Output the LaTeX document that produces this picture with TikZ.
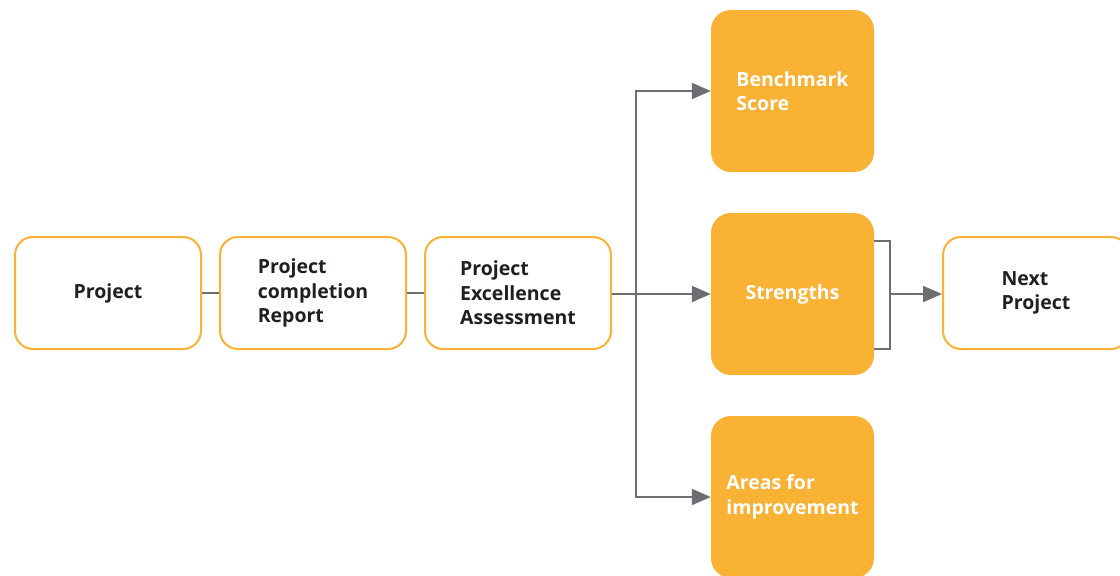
\documentclass[tikz,border=0pt]{standalone}
\usepackage{fontspec}
\setmainfont{Open Sans}
\usetikzlibrary{arrows.meta}
\definecolor{orng}{HTML}{F9B233}
\definecolor{gry}{HTML}{6D6E71}
\definecolor{txt}{HTML}{231F20}
\begin{document}
\begin{tikzpicture}[x=1pt,y=-1pt,
  wbox/.style={draw=orng,line width=2pt,fill=white,rounded corners=18pt,
    minimum width=186pt,minimum height=112pt,align=left,
    font=\fontsize{19.5}{24.5}\selectfont\bfseries,text=txt,inner sep=0pt},
  obox/.style={fill=orng,rounded corners=20pt,
    minimum width=163pt,minimum height=162pt,align=left,
    font=\fontsize{19.5}{24.5}\selectfont\bfseries,text=white,inner sep=0pt},
  conn/.style={draw=gry,line width=2pt},
  arr/.style={conn,-{Triangle[length=19pt,width=16pt]}}]
\useasboundingbox (0,0) rectangle (1120,576);
\node[wbox] (p) at (108,293) {Project};
\node[wbox] (pcr) at (313,293) {Project\\completion\\Report};
\node[wbox] (pea) at (518,293) {Project\\Excellence\\Assessment};
\node[obox] (bs) at (792.5,91) {Benchmark\\Score};
\node[obox] (st) at (792.5,294) {Strengths};
\node[obox] (af) at (792.5,497) {Areas for\\improvement};
\node[wbox] (np) at (1036,293) {Next\\Project};
\draw[conn] (p.east) -- (pcr.west);
\draw[conn] (pcr.east) -- (pea.west);
\coordinate (j) at (636,294);
\draw[conn] (pea.east |- j) -- (j);
\draw[arr] (j) |- (bs.west);
\draw[arr] (j) |- (af.west);
\draw[arr] (j) -- (st.west);
\coordinate (b1) at (890,241);
\coordinate (b2) at (890,349);
\coordinate (bm) at (890,294);
\draw[conn] (st.east |- b1) -- (b1) -- (b2) -- (st.east |- b2);
\draw[arr] (bm) -- (np.west |- bm);
\end{tikzpicture}
\end{document}
